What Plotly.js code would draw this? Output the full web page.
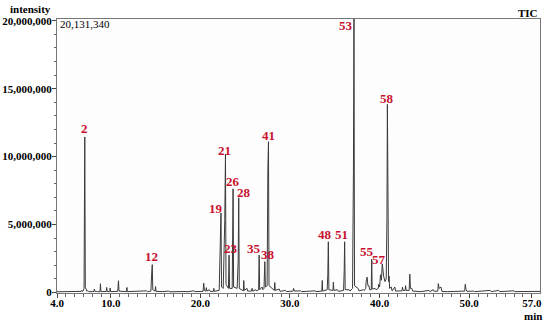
<!DOCTYPE html>
<html>
<head>
<meta charset="utf-8">
<script src="https://cdn.plot.ly/plotly-3.0.1.min.js"></script>
<style>
  html, body { margin: 0; padding: 0; background: #fff; }
  #chart { width: 550px; height: 324px; }
</style>
</head>
<body>
<div id="chart"></div>
<script>
// retention time (min) and TIC intensity (millions)
const rt = [
  4.0, 4.5, 5.0, 5.5, 6.0, 6.5,
  6.70, 6.75, 6.80,
  6.90, 6.95, 7.02, 7.10, 7.16, 7.25, 7.32,
  7.45, 7.55,
  8.0, 8.12, 8.17, 8.22,
  8.45, 8.5, 8.55,
  8.8, 8.85, 8.9,
  9.5, 9.55, 9.6,
  9.88, 9.93, 9.98,
  10.78, 10.86, 10.92,
  11.75, 11.8, 11.85,
  12.6, 12.7,
  13.3, 13.4,
  14.0, 14.1,
  14.48, 14.55, 14.63, 14.69,
  14.95, 15.0, 15.05,
  15.8, 16.45, 16.6,
  17.5, 17.6,
  18.4, 18.5,
  19.3, 19.4,
  20.3, 20.37, 20.45, 20.6, 20.67, 20.73,
  21.0, 21.1,
  21.45, 21.5, 21.55,
  22.1, 22.2, 22.3, 22.36,
  22.55, 22.72, 22.8, 22.86,
  23.13, 23.2, 23.26,
  23.55, 23.65, 23.71,
  24.1, 24.22, 24.28, 24.34,
  24.8, 24.84, 24.9,
  25.2, 25.28,
  25.7, 25.78, 25.85,
  26.2, 26.28,
  26.5, 26.56, 26.62,
  26.9, 26.98,
  27.1, 27.19, 27.26,
  27.45, 27.53, 27.6, 27.66,
  28.25, 28.3, 28.36,
  28.8, 28.9,
  29.5, 29.6,
  30.35, 30.4, 30.5,
  31.2, 31.3,
  32.0, 32.1,
  32.8, 32.9,
  33.55, 33.6, 33.65,
  34.15, 34.22, 34.28, 34.34,
  34.8, 34.84, 34.9,
  35.3, 35.4,
  35.98, 36.05, 36.1, 36.16,
  36.6, 36.7,
  36.98, 37.08, 37.14, 37.2,
  37.6, 37.7,
  38.2, 38.3,
  38.45, 38.5, 38.6, 38.7, 38.8, 38.9,
  39.07, 39.12, 39.17,
  39.5, 39.6,
  39.85, 39.9, 40.0, 40.1, 40.2, 40.3, 40.45, 40.6,
  40.74, 40.82, 40.87, 40.93, 41.0, 41.06, 41.12,
  41.3, 41.4,
  41.7, 41.78,
  42.5, 42.55, 42.62,
  42.85, 42.9, 42.97,
  43.3, 43.37, 43.44, 43.6, 43.7,
  44.5, 44.6,
  45.5, 45.6,
  46.0, 46.1,
  46.5, 46.55, 46.65, 46.85, 46.95,
  47.5, 47.6,
  49.5, 49.56, 49.65, 49.75,
  50.5, 50.6,
  52.35, 52.45,
  53.3, 53.4,
  55.0, 55.1,
  57.9
];
const tic = [
  0.05, 0.06, 0.05, 0.06, 0.05, 0.07,
  0.08, 0.15, 0.08,
  0.10, 0.27, 0.30, 11.45, 0.35, 0.25, 0.10,
  0.12, 0.06,
  0.06, 0.08, 0.25, 0.08,
  0.06, 0.10, 0.06,
  0.06, 0.64, 0.06,
  0.07, 0.37, 0.07,
  0.06, 0.32, 0.06,
  0.08, 0.86, 0.10,
  0.06, 0.37, 0.06,
  0.08, 0.05,
  0.10, 0.05,
  0.12, 0.06,
  0.10, 1.20, 2.05, 0.20,
  0.10, 0.44, 0.08,
  0.06, 0.10, 0.05,
  0.08, 0.05,
  0.07, 0.05,
  0.12, 0.06,
  0.08, 0.69, 0.15, 0.10, 0.35, 0.10,
  0.20, 0.08,
  0.08, 0.30, 0.08,
  0.15, 2.30, 5.85, 0.40,
  0.30, 5.30, 10.19, 0.60,
  0.30, 2.75, 0.30,
  0.30, 7.63, 0.40,
  0.30, 2.30, 6.97, 0.30,
  0.12, 0.88, 0.15,
  0.30, 0.10,
  0.10, 0.30, 0.10,
  0.20, 0.12,
  0.20, 2.75, 0.20,
  0.40, 0.20,
  0.30, 2.27, 0.40,
  0.50, 9.00, 11.10, 0.50,
  0.15, 0.73, 0.15,
  0.25, 0.08,
  0.15, 0.06,
  0.10, 0.30, 0.10,
  0.12, 0.06,
  0.10, 0.06,
  0.12, 0.06,
  0.10, 0.88, 0.10,
  0.20, 1.30, 3.73, 0.20,
  0.15, 0.76, 0.15,
  0.20, 0.08,
  0.15, 1.60, 3.73, 0.20,
  0.20, 0.10,
  0.30, 8.85, 20.13, 0.50,
  0.30, 0.12,
  0.20, 0.15,
  0.30, 0.80, 1.13, 0.50, 0.50, 0.20,
  0.20, 2.44, 0.25,
  0.30, 0.20,
  0.30, 0.60, 0.40, 1.30, 0.90, 2.10, 1.20, 0.80,
  1.00, 5.50, 13.85, 1.50, 0.80, 1.20, 0.30,
  0.40, 0.12,
  0.40, 0.10,
  0.12, 0.40, 0.15,
  0.15, 0.50, 0.15,
  0.15, 1.35, 0.30, 0.30, 0.10,
  0.10, 0.06,
  0.15, 0.06,
  0.20, 0.08,
  0.10, 0.65, 0.30, 0.40, 0.08,
  0.10, 0.06,
  0.10, 0.60, 0.20, 0.08,
  0.10, 0.06,
  0.15, 0.06,
  0.15, 0.06,
  0.12, 0.06,
  0.08
];

// labelled peaks
const peakNames = ["2", "12", "19", "21", "23", "26", "28", "35", "38", "41", "48", "51", "53", "55", "57", "58"];
const peakTimes = [7.10, 14.63, 22.3, 22.8, 23.2, 23.65, 24.28, 26.56, 27.19, 27.6, 34.28, 36.1, 37.14, 39.12, 40.3, 40.87];
const peakHeights = [11.45, 2.05, 5.85, 10.19, 2.75, 7.63, 6.97, 2.75, 2.27, 11.1, 3.73, 3.73, 20.13, 2.44, 2.1, 13.85];

const maxIntensity = 20131340;
const xTickVals = [4, 10, 20, 30, 40, 50, 57];
const yTickVals = [0, 5, 10, 15, 20];

// label offsets from apex in px (styling only)
const labelDx = [0, -1, -5, -1, 2, 0, 5, -5, 3, 0, -3, -3, -8, -5, -3, 0];
const labelDy = [-8, -8, -5, -4, -7, -7, -5, -7, -7, -6, -7, -7, 6, -8, -4, -6];

const serif = "Liberation Serif, Times New Roman, serif";
const M = 1e6;

const trace = {
  x: rt,
  y: tic.map(v => v * M),
  type: "scatter",
  mode: "lines",
  line: { color: "#3a3a3a", width: 1 },
  hoverinfo: "skip",
};

const annotations = peakNames.map((name, i) => ({
  x: peakTimes[i],
  y: peakHeights[i] * M,
  xref: "x",
  yref: "y",
  text: name,
  showarrow: false,
  xanchor: "center",
  yanchor: "middle",
  xshift: labelDx[i],
  yshift: -labelDy[i],
  font: { family: serif, size: 13, weight: "bold", color: "#c8102e" },
}));

annotations.push(
  { xref: "paper", yref: "paper", x: -0.054, y: 1.036, text: "intensity", showarrow: false,
    xanchor: "center", yanchor: "middle", font: { family: serif, size: 11, weight: "bold", color: "#000" } },
  { xref: "paper", yref: "paper", x: 1.0, y: 1.023, text: "TIC", showarrow: false,
    xanchor: "right", yanchor: "middle", font: { family: serif, size: 11, weight: "bold", color: "#000" } },
  { xref: "paper", yref: "paper", x: 0.003, y: 0.981, text: maxIntensity.toLocaleString("en-US"), showarrow: false,
    xanchor: "left", yanchor: "middle", font: { family: serif, size: 11, color: "#000" } },
  { xref: "paper", yref: "paper", x: 0.985, y: -0.083, text: "min", showarrow: false,
    xanchor: "center", yanchor: "middle", font: { family: serif, size: 11, weight: "bold", color: "#000" } }
);

const layout = {
  width: 550,
  height: 324,
  margin: { l: 57, r: 10, t: 19, b: 31 },
  paper_bgcolor: "#fff",
  plot_bgcolor: "#fdfdfd",
  showlegend: false,
  xaxis: {
    range: [4, 57.9],
    tickmode: "array",
    tickvals: xTickVals,
    ticktext: xTickVals.map(v => v.toFixed(1)),
    ticks: "outside",
    ticklen: 4,
    tickcolor: "#444",
    ticklabelstandoff: -4,
    showgrid: false,
    zeroline: false,
    showline: true,
    mirror: true,
    linecolor: "#777",
    tickfont: { family: serif, size: 11, weight: "bold", color: "#000" },
    minor: { tickmode: "linear", tick0: 0, dtick: 1, ticks: "outside", ticklen: 3, tickcolor: "#666", showgrid: false },
  },
  yaxis: {
    range: [-0.04 * M, maxIntensity + 1000],
    tickmode: "array",
    tickvals: yTickVals.map(v => v * M),
    tickformat: ",d",
    ticks: "outside",
    ticklen: 4,
    tickcolor: "#444",
    ticklabelstandoff: -2,
    showgrid: false,
    zeroline: false,
    showline: true,
    mirror: true,
    linecolor: "#777",
    tickfont: { family: serif, size: 11, weight: "bold", color: "#000" },
    minor: { tickmode: "linear", tick0: 0, dtick: 1 * M, ticks: "outside", ticklen: 2, tickcolor: "#666", showgrid: false },
  },
  annotations: annotations,
};

Plotly.newPlot("chart", [trace], layout, { staticPlot: true, displayModeBar: false });
</script>
</body>
</html>
